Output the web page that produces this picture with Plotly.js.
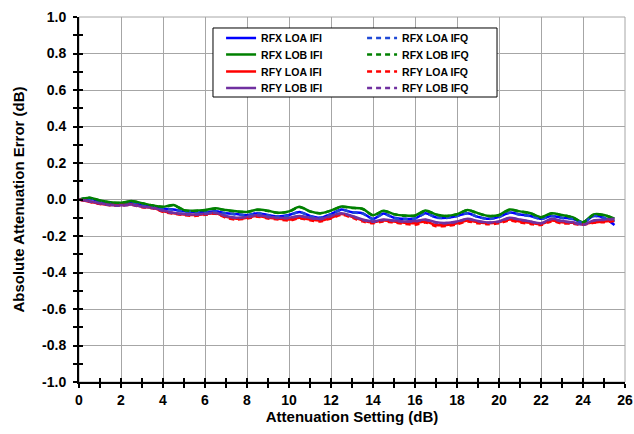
<!DOCTYPE html>
<html>
<head>
<meta charset="utf-8">
<script src="https://cdn.plot.ly/plotly-3.0.1.min.js"></script>
<style>html,body{margin:0;padding:0;background:#fff;}#chart{width:634px;height:434px;}</style>
</head>
<body>
<div id="chart"></div>
<script>
// Attenuation setting (dB)
const attenuation = [0,0.5,1,1.5,2,2.5,3,3.5,4,4.5,5,5.5,6,6.5,7,7.5,8,8.5,9,9.5,10,10.5,11,11.5,12,12.5,13,13.5,14,14.5,15,15.5,16,16.5,17,17.5,18,18.5,19,19.5,20,20.5,21,21.5,22,22.5,23,23.5,24,24.5,25,25.5];

const rfxLoaIfi = [0,0.005,-0.01,-0.02,-0.025,-0.02,-0.03,-0.04,-0.05,-0.055,-0.065,-0.068,-0.07,-0.065,-0.075,-0.08,-0.086,-0.075,-0.085,-0.093,-0.085,-0.068,-0.09,-0.1,-0.08,-0.055,-0.07,-0.075,-0.106,-0.077,-0.1,-0.106,-0.104,-0.075,-0.098,-0.1,-0.09,-0.075,-0.095,-0.106,-0.095,-0.072,-0.082,-0.09,-0.106,-0.09,-0.1,-0.106,-0.126,-0.09,-0.1,-0.14];
const rfxLobIfi = [0,0.01,-0.005,-0.015,-0.018,-0.008,-0.02,-0.032,-0.04,-0.03,-0.058,-0.062,-0.058,-0.048,-0.058,-0.065,-0.068,-0.055,-0.062,-0.073,-0.065,-0.04,-0.065,-0.075,-0.06,-0.038,-0.045,-0.05,-0.086,-0.062,-0.08,-0.088,-0.088,-0.06,-0.082,-0.09,-0.08,-0.057,-0.075,-0.09,-0.085,-0.055,-0.065,-0.075,-0.097,-0.075,-0.085,-0.097,-0.124,-0.082,-0.085,-0.105];
const rfyLoaIfi = [0,-0.012,-0.024,-0.03,-0.03,-0.026,-0.04,-0.045,-0.065,-0.075,-0.082,-0.085,-0.08,-0.075,-0.095,-0.106,-0.1,-0.09,-0.1,-0.105,-0.11,-0.1,-0.11,-0.115,-0.1,-0.08,-0.095,-0.115,-0.125,-0.115,-0.12,-0.128,-0.13,-0.12,-0.14,-0.14,-0.13,-0.115,-0.125,-0.13,-0.125,-0.11,-0.12,-0.128,-0.135,-0.115,-0.125,-0.128,-0.135,-0.125,-0.12,-0.115];
const rfyLobIfi = [0,-0.01,-0.02,-0.03,-0.032,-0.028,-0.038,-0.045,-0.06,-0.073,-0.08,-0.082,-0.078,-0.072,-0.09,-0.1,-0.095,-0.085,-0.095,-0.1,-0.1,-0.09,-0.1,-0.106,-0.09,-0.075,-0.09,-0.11,-0.12,-0.11,-0.115,-0.12,-0.118,-0.11,-0.125,-0.128,-0.12,-0.106,-0.118,-0.126,-0.12,-0.1,-0.11,-0.12,-0.13,-0.106,-0.118,-0.125,-0.137,-0.115,-0.11,-0.106];

const rfxLoaIfq = [0,0.004,-0.012,-0.02,-0.026,-0.02,-0.032,-0.04,-0.05,-0.056,-0.066,-0.068,-0.071,-0.066,-0.076,-0.082,-0.086,-0.076,-0.086,-0.094,-0.087,-0.069,-0.091,-0.1,-0.082,-0.057,-0.071,-0.077,-0.107,-0.079,-0.101,-0.107,-0.105,-0.077,-0.099,-0.101,-0.091,-0.076,-0.096,-0.107,-0.096,-0.073,-0.083,-0.091,-0.107,-0.091,-0.101,-0.107,-0.127,-0.091,-0.101,-0.12];
const rfxLobIfq = [0,0.009,-0.006,-0.016,-0.019,-0.01,-0.021,-0.033,-0.041,-0.032,-0.059,-0.063,-0.059,-0.05,-0.059,-0.066,-0.069,-0.057,-0.063,-0.074,-0.066,-0.042,-0.066,-0.076,-0.061,-0.04,-0.046,-0.052,-0.087,-0.063,-0.081,-0.089,-0.089,-0.062,-0.083,-0.091,-0.081,-0.059,-0.076,-0.091,-0.086,-0.057,-0.066,-0.076,-0.098,-0.077,-0.086,-0.098,-0.125,-0.084,-0.086,-0.106];
const rfyLoaIfq = [0,-0.013,-0.025,-0.032,-0.032,-0.028,-0.042,-0.048,-0.068,-0.078,-0.086,-0.09,-0.084,-0.078,-0.1,-0.11,-0.104,-0.094,-0.104,-0.11,-0.115,-0.104,-0.114,-0.12,-0.104,-0.084,-0.1,-0.12,-0.13,-0.12,-0.126,-0.134,-0.138,-0.126,-0.146,-0.145,-0.136,-0.12,-0.13,-0.136,-0.13,-0.116,-0.126,-0.134,-0.14,-0.12,-0.13,-0.133,-0.138,-0.128,-0.124,-0.118];
const rfyLobIfq = [0,-0.011,-0.022,-0.031,-0.034,-0.03,-0.04,-0.047,-0.062,-0.075,-0.082,-0.084,-0.08,-0.074,-0.092,-0.102,-0.097,-0.087,-0.097,-0.102,-0.102,-0.092,-0.102,-0.108,-0.092,-0.077,-0.092,-0.112,-0.122,-0.112,-0.117,-0.122,-0.12,-0.112,-0.127,-0.13,-0.122,-0.108,-0.12,-0.128,-0.122,-0.102,-0.112,-0.122,-0.132,-0.108,-0.12,-0.127,-0.139,-0.117,-0.112,-0.108];

// Tick labels
const xTickVals = [0,2,4,6,8,10,12,14,16,18,20,22,24,26];
const xTickText = ['0','2','4','6','8','10','12','14','16','18','20','22','24','26'];
const yTickVals = [-1,-0.8,-0.6,-0.4,-0.2,0,0.2,0.4,0.6,0.8,1];
const yTickText = ['-1.0','-0.8','-0.6','-0.4','-0.2','0.0','0.2','0.4','0.6','0.8','1.0'];

// Series in legend rows: [IFI, IFQ] per row
const seriesNames = ['RFX LOA IFI','RFX LOA IFQ','RFX LOB IFI','RFX LOB IFQ','RFY LOA IFI','RFY LOA IFQ','RFY LOB IFI','RFY LOB IFQ'];
const seriesData = [rfxLoaIfi, rfxLoaIfq, rfxLobIfi, rfxLobIfq, rfyLoaIfi, rfyLoaIfq, rfyLobIfi, rfyLobIfq];
const seriesColors = ['#0000ff','#1f49d6','#008000','#008000','#ff0000','#ff0000','#7030a0','#7030a0'];
const legendIds = ['legend','legend','legend2','legend2','legend3','legend3','legend4','legend4'];

const traces = seriesData.map((d, i) => ({
  type: 'scatter', mode: 'lines', x: attenuation, y: d, name: seriesNames[i],
  line: {color: seriesColors[i], width: 2.5, shape: 'spline', smoothing: 0.8, dash: i % 2 === 0 ? 'solid' : '5px,4px'},
  legend: legendIds[i]
}));
// draw order: solid IFI first, dashed IFQ on top
const ordered = [0,2,4,6,1,3,5,7].map(i => traces[i]);

const FONT = 'Liberation Sans, Arial, sans-serif';
const GRID = '#a6a6a6';
const legendFont = {family: FONT, size: 10.5, color: '#000', weight: 'bold'};
const legendBase = {orientation: 'h', x: 0.2602, xanchor: 'left', yanchor: 'middle', bgcolor: 'rgba(0,0,0,0)', borderwidth: 0,
                    font: legendFont, entrywidth: 96, entrywidthmode: 'pixels', traceorder: 'normal'};

const layout = {
  width: 634, height: 434,
  margin: {l: 79, r: 9, t: 17, b: 52},
  paper_bgcolor: '#fff', plot_bgcolor: '#fff',
  showlegend: true,
  title: {text: 'Digital Step Attenuator Accuracy vs Setting', font: {family: FONT, size: 15, color: '#000', weight: 'bold'},
          x: 0.53, xanchor: 'center', y: 1, yanchor: 'bottom', yref: 'container', pad: {b: 5}},
  xaxis: {
    range: [0, 26], tickvals: xTickVals, ticktext: xTickText, showgrid: true, gridcolor: GRID, gridwidth: 1, zeroline: false,
    showline: true, linecolor: '#000', linewidth: 2,
    ticks: 'outside', ticklen: 4, tickwidth: 2, tickcolor: '#000',
    minor: {dtick: 1, tick0: 0, ticks: 'outside', ticklen: 4, tickwidth: 2, tickcolor: '#000', showgrid: false},
    tickfont: {family: FONT, size: 14, color: '#000', weight: 'bold'},
    title: {text: 'Attenuation Setting (dB)', font: {family: FONT, size: 15, color: '#000', weight: 'bold'}, standoff: 5},
    automargin: false, fixedrange: true
  },
  yaxis: {
    range: [-1, 1], tickvals: yTickVals, ticktext: yTickText, showgrid: true, gridcolor: GRID, gridwidth: 1, zeroline: false,
    showline: true, linecolor: '#000', linewidth: 2,
    ticks: 'outside', ticklen: 4, tickwidth: 2, tickcolor: '#000', ticklabelstandoff: 4,
    minor: {dtick: 0.1, tick0: 0, ticks: 'outside', ticklen: 4, tickwidth: 2, tickcolor: '#000', showgrid: false},
    tickfont: {family: FONT, size: 14, color: '#000', weight: 'bold'},
    title: {text: 'Absolute Attenuation Error (dB)', font: {family: FONT, size: 15, color: '#000', weight: 'bold'}, standoff: 14},
    automargin: false, fixedrange: true
  },
  xaxis2: {
    range: [0, 26], overlaying: 'x', anchor: 'y', tickvals: xTickVals, showgrid: false, zeroline: false, showline: false,
    ticks: 'inside', ticklen: 4, tickwidth: 2, tickcolor: '#000', showticklabels: false,
    minor: {dtick: 1, tick0: 0, ticks: 'inside', ticklen: 4, tickwidth: 2, tickcolor: '#000', showgrid: false}, fixedrange: true
  },
  yaxis2: {
    range: [-1, 1], overlaying: 'y', anchor: 'x', side: 'left', tickvals: yTickVals, showgrid: false, zeroline: false, showline: false,
    ticks: 'inside', ticklen: 4, tickwidth: 2, tickcolor: '#000', showticklabels: false,
    minor: {dtick: 0.1, tick0: 0, ticks: 'inside', ticklen: 4, tickwidth: 2, tickcolor: '#000', showgrid: false}, fixedrange: true
  },
  shapes: [
    {type: 'rect', xref: 'paper', yref: 'paper', x0: 0, x1: 1, y0: 0, y1: 1, line: {color: GRID, width: 1}, layer: 'below'},
    {type: 'rect', xref: 'paper', yref: 'paper', x0: 0.2454, x1: 0.7656, y0: 0.7808, y1: 0.9699,
     line: {color: '#000', width: 1}, fillcolor: '#fff', layer: 'above'}
  ],
  legend:  Object.assign({}, legendBase, {y: 0.9425}),
  legend2: Object.assign({}, legendBase, {y: 0.8973}),
  legend3: Object.assign({}, legendBase, {y: 0.8507}),
  legend4: Object.assign({}, legendBase, {y: 0.8055})
};

// invisible trace so the overlay (tick-crossing) axes are drawn
ordered.push({type: 'scatter', mode: 'lines', x: [], y: [], xaxis: 'x2', yaxis: 'y2', showlegend: false, hoverinfo: 'skip'});

Plotly.newPlot('chart', ordered, layout, {displayModeBar: false, staticPlot: true});
</script>
</body>
</html>
